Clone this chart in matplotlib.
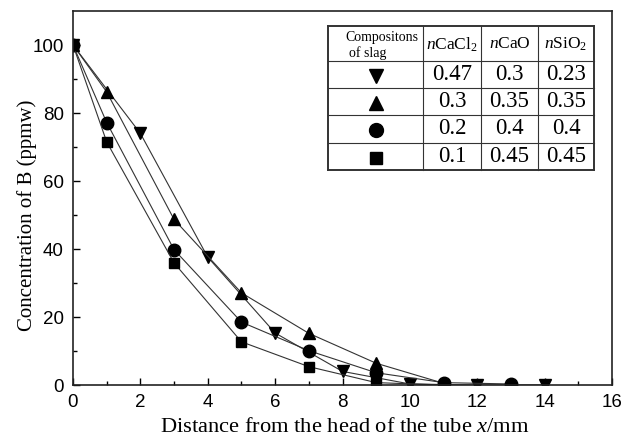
import matplotlib
matplotlib.use("Agg")
import matplotlib.pyplot as plt

# Data
x_down = [0, 2, 4, 6, 8, 10, 12, 14]
y_down = [100, 74, 37.6, 15.3, 4.0, 0.3, 0, 0]
x_up = [0, 1, 3, 5, 7, 9, 11]
y_up = [100, 86.2, 48.7, 27.1, 15.2, 6.4, 0.5]
x_circ = [0, 1, 3, 5, 7, 9, 11, 13]
y_circ = [100, 77.2, 39.8, 18.5, 10.1, 3.6, 0.7, 0.3]
x_sq = [0, 1, 3, 5, 7, 9, 11]
y_sq = [100, 71.5, 35.9, 12.7, 5.4, 0.7, 0]

table_header = ["Compositons", "of slag", r"$n$CaCl$_2$", r"$n$CaO", r"$n$SiO$_2$"]
table_rows = [["0.47", "0.3", "0.23"],
              ["0.3", "0.35", "0.35"],
              ["0.2", "0.4", "0.4"],
              ["0.1", "0.45", "0.45"]]
row_markers = ["v", "^", "o", "s"]

plt.rcParams['mathtext.fontset'] = 'custom'
plt.rcParams['mathtext.rm'] = 'Liberation Serif'
plt.rcParams['mathtext.it'] = 'Liberation Serif:italic'

fig = plt.figure(figsize=(6.24, 4.41), dpi=100)
ax = fig.add_axes([73/624, 1-385/441, (612-73)/624, (385-11)/441])

line_kw = dict(color="#333333", lw=0.8, markersize=9, markerfacecolor="black",
               markeredgecolor="black")
ax.plot(x_down, y_down, marker="v", **line_kw)
ax.plot(x_up, y_up, marker="^", **line_kw)
ax.plot(x_circ, y_circ, marker="o", **line_kw)
ax.plot(x_sq, y_sq, marker="s", markersize=7.5, color="#333333", lw=0.8,
        markerfacecolor="black", markeredgecolor="black")

ax.set_xlim(0, 16)
ax.set_ylim(0, 110)
ax.set_xticks(range(0, 17, 2))
ax.set_xticks(range(1, 17, 2), minor=True)
ax.set_yticks(range(0, 101, 20))
ax.set_yticks(range(10, 110, 20), minor=True)
ax.tick_params(which="both", direction="in", top=False, right=False)
ax.tick_params(which="major", length=5, width=1, labelsize=13.5, pad=6.5)
ax.tick_params(which="minor", length=3, width=1)
for lab in ax.get_xticklabels() + ax.get_yticklabels():
    lab.set_fontfamily("Liberation Sans")
for s in ax.spines.values():
    s.set_linewidth(1.2)
    s.set_color("#222222")

ax.set_xlabel(r"Distance from the head of the tube $x$/mm", fontsize=16.2,
              family="Liberation Serif", labelpad=4)
ax.xaxis.set_label_coords((345 - 73) / 539.0, -(428 - 385) / 374.0)
ax.set_ylabel("Concentration of B (ppmw)", fontsize=15,
              family="Liberation Serif")
ax.yaxis.set_label_coords(-(73 - 27) / 539.0, (385 - 215) / 374.0)
ax.xaxis.label.set_va("center")
ax.yaxis.label.set_va("center")

# Table drawn in axes coordinates
def px2ax(px, py):
    return ((px - 73) / 539.0, (385 - py) / 374.0)

col_px = [328, 423, 481, 538, 594]
row_px = [26, 61, 88, 115, 143, 170]
tr = ax.transAxes
lk = dict(color="#333333", transform=tr, clip_on=False)
for i, cx in enumerate(col_px):
    x0, y0 = px2ax(cx, row_px[0])
    _, y1 = px2ax(cx, row_px[-1])
    ax.plot([x0, x0], [y0, y1], lw=1.4 if i in (0, len(col_px)-1) else 0.8, **lk)
for j, ry in enumerate(row_px):
    x0, yy = px2ax(col_px[0], ry)
    x1, _ = px2ax(col_px[-1], ry)
    ax.plot([x0, x1], [yy, yy], lw=1.4 if j in (0, len(row_px)-1) else 0.8, **lk)

# header
hx, hy = px2ax(345, 37)
ax.text(hx, hy, table_header[0], transform=tr, ha="left", va="center",
        fontsize=10, family="Liberation Serif")
hx, hy = px2ax(349, 53)
ax.text(hx, hy, table_header[1], transform=tr, ha="left", va="center",
        fontsize=10, family="Liberation Serif")
for c in range(1, 4):
    cx, cy = px2ax((col_px[c] + col_px[c+1]) / 2, (row_px[0] + row_px[1]) / 2 + 1)
    ax.text(cx, cy, table_header[c+1], transform=tr, ha="center", va="center",
            fontsize=12.5, family="Liberation Serif")

for r in range(4):
    mx, my = px2ax((col_px[0] + col_px[1]) / 2, (row_px[r+1] + row_px[r+2]) / 2 + 1)
    ax.plot([mx], [my], marker=row_markers[r], color="black",
            markersize=10 if row_markers[r] != "s" else 8,
            transform=tr, clip_on=False, linestyle="none")
    for c in range(3):
        cx, cy = px2ax((col_px[c+1] + col_px[c+2]) / 2, (row_px[r+1] + row_px[r+2]) / 2)
        ax.text(cx, cy, table_rows[r][c], transform=tr, ha="center", va="center",
                fontsize=16.5, family="Liberation Serif")

fig.savefig("out.png", dpi=100)
